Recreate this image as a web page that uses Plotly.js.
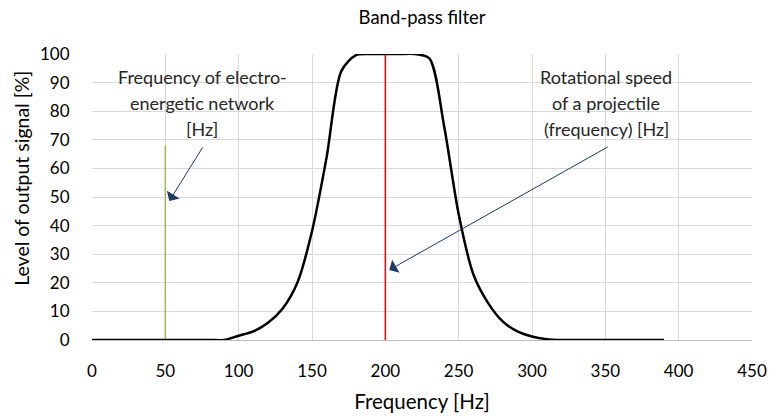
<!DOCTYPE html>
<html>
<head>
<meta charset="utf-8">
<script src="https://cdn.plot.ly/plotly-3.0.1.min.js"></script>
<style>html,body{margin:0;padding:0;background:#fff}#chart{width:773px;height:420px}</style>
</head>
<body>
<div id="chart"></div>
<script>
// Filter response curve
const freq = [0,10,20,30,40,50,60,70,80,90,100,110,120,130,140,150,160,170,180,190,200,210,220,230,240,250,260,270,280,290,300,310,320,330,340,350,360,370,380,390];
const level = [0,0,0,0,0,0,0,0,0,0,1.5,3,6,11,20,38,64,94,99.6,100,100,100,100,98.5,75,44,23,13,6.5,3,1.2,0.3,0,0,0,0,0,0,0,0];
// Marker lines
const networkFreq = [50,50];
const networkLevel = [0,68];
const projFreq = [200,200];
const projLevel = [0,100];
// Labels
const titleText = "Band-pass filter";
const xTitle = "Frequency [Hz]";
const yTitle = "Level of output signal [%]";
const leftLabel = ["Frequency of electro-","energetic network","[Hz]"];
const rightLabel = ["Rotational speed","of a projectile","(frequency) [Hz]"];

const FONT = "Lato, 'Open Sans', sans-serif";
const txtColor = "#262626";
const arrowColor = "#203864";

const traces = [
  {x: networkFreq, y: networkLevel, mode: "lines", line: {color: "#9bbb59", width: 1.5}, hoverinfo: "skip"},
  {x: projFreq, y: projLevel, mode: "lines", line: {color: "#ff0000", width: 1.5}, hoverinfo: "skip"},
  {x: freq, y: level, mode: "lines", line: {color: "#000000", width: 2.5, shape: "spline", smoothing: 0.8}, hoverinfo: "skip"}
];

const annotations = [];
const lineYs = [0.92, 0.829, 0.738];
leftLabel.forEach((t, i) => annotations.push({xref: "paper", yref: "paper", x: 0.167, y: lineYs[i], text: t, showarrow: false, font: {family: FONT, size: 18, color: txtColor}, xanchor: "center", yanchor: "middle"}));
rightLabel.forEach((t, i) => annotations.push({xref: "paper", yref: "paper", x: 0.779, y: lineYs[i], text: t, showarrow: false, font: {family: FONT, size: 18, color: txtColor}, xanchor: "center", yanchor: "middle"}));
// y axis title (placed like the original, slightly above the plot middle)
annotations.push({xref: "paper", yref: "paper", x: -0.107, y: 0.565, text: yTitle, textangle: -90, showarrow: false, font: {family: FONT, size: 19.5, color: "#000000"}, xanchor: "center", yanchor: "middle"});
// arrows
annotations.push({x: 52.7, y: 48.6, ax: 76, ay: 67.8, axref: "x", ayref: "y", xref: "x", yref: "y", text: "", showarrow: true, arrowhead: 1, arrowsize: 2.5, arrowwidth: 1, arrowcolor: arrowColor});
annotations.push({x: 202.7, y: 24.5, ax: 352.7, ay: 67.8, axref: "x", ayref: "y", xref: "x", yref: "y", text: "", showarrow: true, arrowhead: 1, arrowsize: 2.5, arrowwidth: 1, arrowcolor: arrowColor});

const shapes = [
  {type: "rect", layer: "between", xref: "paper", yref: "paper", x0: 0.008, x1: 0.332, y0: 0.678, y1: 0.997, fillcolor: "#ffffff", line: {width: 0}},
  {type: "rect", layer: "between", xref: "paper", yref: "paper", x0: 0.67, x1: 0.985, y0: 0.678, y1: 0.98, fillcolor: "#ffffff", line: {width: 0}}
];

const layout = {
  width: 773, height: 420,
  margin: {l: 92, r: 21, t: 54, b: 80},
  paper_bgcolor: "#ffffff", plot_bgcolor: "#ffffff",
  showlegend: false,
  title: {text: titleText, x: 0.546, xanchor: "center", y: 0.958, yanchor: "middle", font: {family: FONT, size: 18.5, color: "#000000"}},
  xaxis: {
    range: [0, 450], dtick: 50, tick0: 0,
    showgrid: true, gridcolor: "#d9d9d9", gridwidth: 1,
    zeroline: false, showline: true, linecolor: "#bfbfbf", linewidth: 1,
    ticks: "outside", ticklen: 0, ticklabelstandoff: 16,
    tickfont: {family: FONT, size: 17, color: "#000000"},
    title: {text: xTitle, standoff: 14, font: {family: FONT, size: 20.5, color: "#000000"}},
    automargin: false, fixedrange: true
  },
  yaxis: {
    range: [0, 100], dtick: 10, tick0: 0,
    showgrid: true, gridcolor: "#d9d9d9", gridwidth: 1,
    zeroline: false, showline: false,
    ticks: "outside", ticklen: 0, ticklabelstandoff: 18,
    tickfont: {family: FONT, size: 17, color: "#000000"},
    automargin: false, fixedrange: true
  },
  annotations: annotations,
  shapes: shapes
};

Plotly.newPlot("chart", traces, layout, {displayModeBar: false, staticPlot: true});
</script>
</body>
</html>
